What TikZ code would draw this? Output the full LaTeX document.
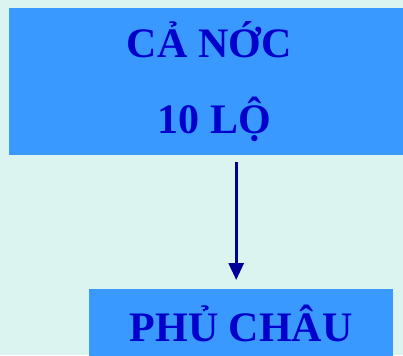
\documentclass[tikz,border=0pt]{standalone}
\usepackage{fontspec}
\setmainfont{Liberation Serif}
\usetikzlibrary{arrows.meta,positioning}

\definecolor{bgmint}{HTML}{DCF4EF}
\definecolor{boxblue}{HTML}{3A99FF}
\definecolor{textblue}{HTML}{0000CC}
\definecolor{arrownavy}{HTML}{000099}

\begin{document}
\begin{tikzpicture}[x=1pt,y=1pt,
levelbox/.style={fill=boxblue, draw=none, inner sep=0pt, align=center,
  text=textblue, font=\fontsize{42}{76}\selectfont\bfseries},
downarrow/.style={-{Triangle[length=17pt,width=15pt]}, draw=arrownavy, line width=3pt}]

\fill[bgmint] (0,0) rectangle (403,-355);
\useasboundingbox (0,0) rectangle (403,-355);

\node[levelbox, minimum width=400pt, minimum height=147pt, anchor=north west] (canuoc) at (9,-8) {CẢ NỚC\\\hspace*{10pt}10 LỘ};
\node[levelbox, minimum width=304pt, minimum height=68pt, anchor=north west] (phuchau) at (89,-289) {PHỦ CHÂU};

\draw[downarrow, shorten <=7pt, shorten >=9pt] ([xshift=-5pt]canuoc.south -| phuchau.north) -- ([xshift=-5pt]phuchau.north);

\end{tikzpicture}
\end{document}
